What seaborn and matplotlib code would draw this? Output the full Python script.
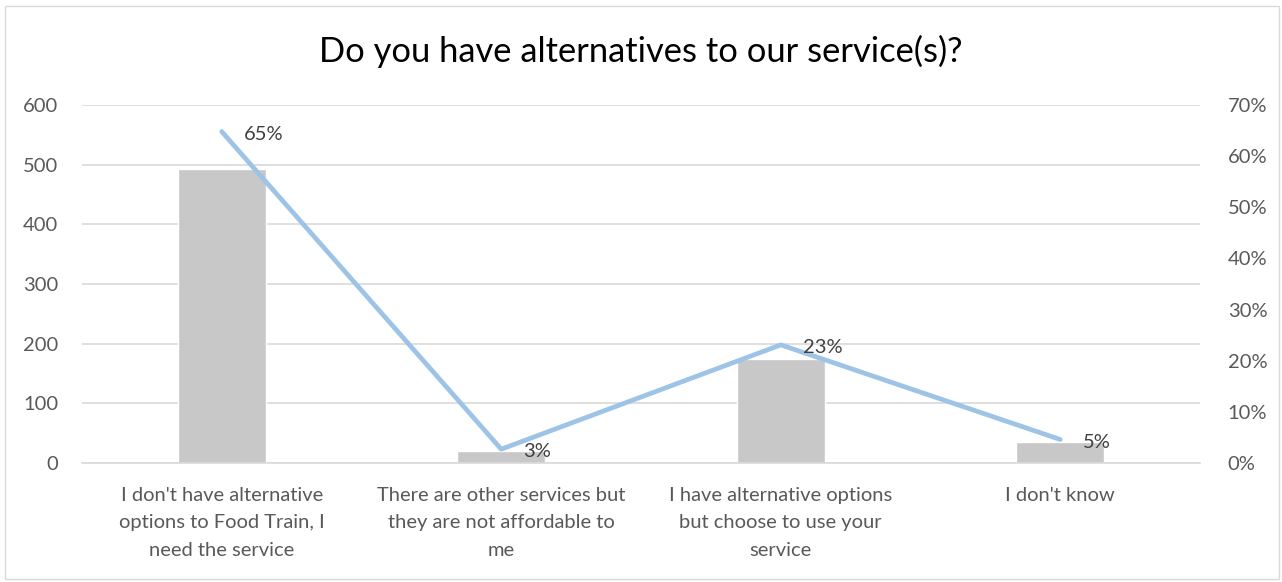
import matplotlib
matplotlib.use("Agg")
import matplotlib.pyplot as plt
from matplotlib.patches import Rectangle
from matplotlib.ticker import PercentFormatter
import seaborn as sns
import pandas as pd

categories = [
    "I don't have alternative\noptions to Food Train, I\nneed the service",
    "There are other services but\nthey are not affordable to\nme",
    "I have alternative options\nbut choose to use your\nservice",
    "I don't know",
]
counts = [492, 20, 175, 35]
shares = [0.648, 0.027, 0.231, 0.046]
title = "Do you have alternatives to our service(s)?"

sns.set_theme(style="white")
plt.rcParams["font.family"] = ["Lato", "DejaVu Sans"]

df = pd.DataFrame({"cat": categories, "count": counts, "share": shares})

W, H = 1282, 582
fig = plt.figure(figsize=(W / 100, H / 100), dpi=100)
ax = fig.add_axes([82 / W, (H - 463) / H, (1200 - 82) / W, (463 - 105) / H])

sns.barplot(data=df, x="cat", y="count", color="#C8C8C8", width=0.315,
            saturation=1, ax=ax, zorder=2)
ax.set_xlim(-0.5, len(categories) - 0.5)
ax.set_ylim(0, 600)
ax.set_yticks(range(0, 601, 100))
ax.set_axisbelow(True)
ax.yaxis.grid(True, color="#D9D9D9", lw=1.2)
ax.set_xlabel("")
ax.set_ylabel("")
for s in ["top", "left", "right"]:
    ax.spines[s].set_visible(False)
ax.spines["bottom"].set_color("#D9D9D9")
ax.spines["bottom"].set_linewidth(1.2)
ax.tick_params(axis="y", length=0, pad=17, labelsize=14.5, labelcolor="#595959")
ax.tick_params(axis="x", length=0, pad=17, labelsize=14.5, labelcolor="#595959")
for lbl in ax.get_xticklabels():
    lbl.set_linespacing(1.75)

ax2 = ax.twinx()
sns.lineplot(data=df, x="cat", y="share", sort=False, color="#9DC3E6", lw=3.4,
             ax=ax2)
ax2.set_ylim(0, 0.7)
ax2.set_yticks([i / 10 for i in range(8)])
ax2.yaxis.set_major_formatter(PercentFormatter(1.0, decimals=0))
ax2.set_ylabel("")
for s in ax2.spines.values():
    s.set_visible(False)
ax2.tick_params(axis="y", length=0, pad=20, labelsize=14.5, labelcolor="#595959")
for i, p in enumerate(shares):
    ax2.annotate(f"{round(p * 100):d}%", (i, p), xytext=(16, -2),
                 textcoords="offset points", ha="left", va="center",
                 fontsize=14.5, color="#404040")

fig.text(0.5, 1 - 62 / H, title, ha="center", va="baseline", fontsize=24.8,
         color="#000000")
fig.patches.append(Rectangle((5 / W, 3 / H), 1274 / W, 573 / H,
                             transform=fig.transFigure, fill=False,
                             ec="#D9D9D9", lw=1))

fig.savefig("out.png", dpi=100)
